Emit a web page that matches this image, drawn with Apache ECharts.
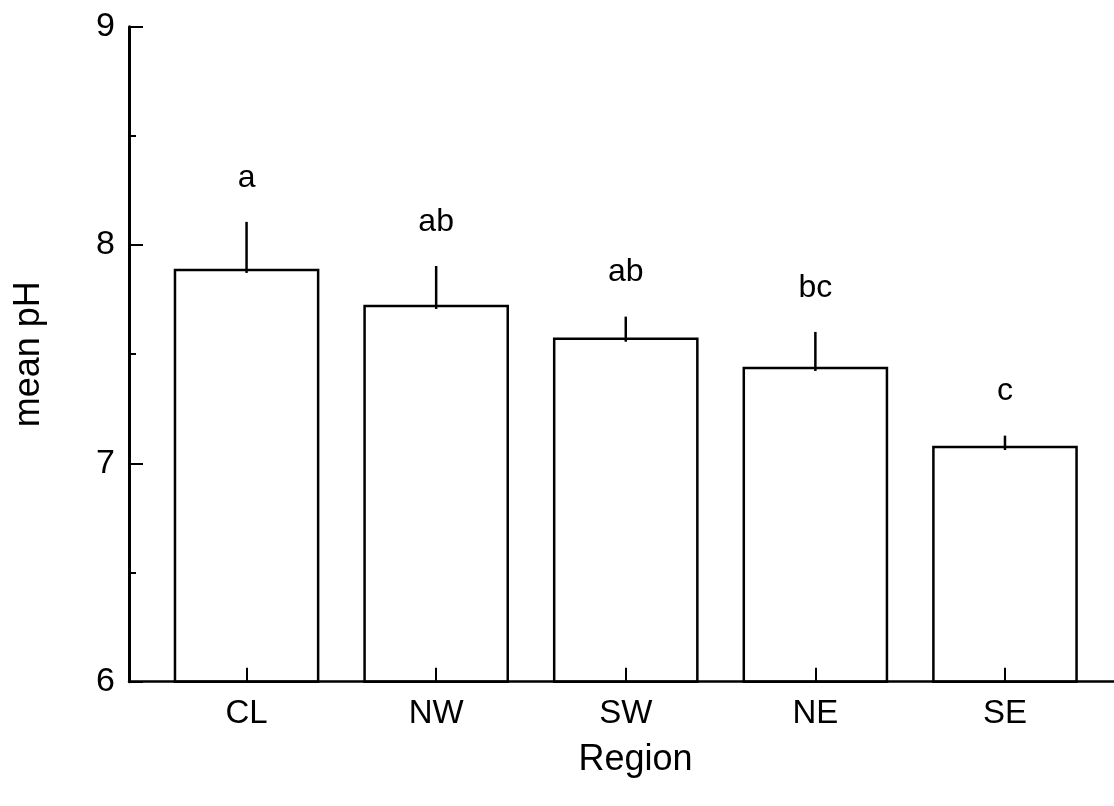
<!DOCTYPE html>
<html>
<head>
<meta charset="utf-8">
<script src="https://cdn.jsdelivr.net/npm/echarts@6/dist/echarts.min.js"></script>
<style>
html,body{margin:0;padding:0;background:#fff;}
#chart{width:1114px;height:806px;}
</style>
</head>
<body>
<div id="chart"></div>
<script>
// Data
const categories = ['CL', 'NW', 'SW', 'NE', 'SE'];
const meanPH = [7.886, 7.721, 7.571, 7.437, 7.075];
const errorUpper = [8.106, 7.904, 7.672, 7.602, 7.127];
const groupLetters = ['a', 'ab', 'ab', 'bc', 'c'];
const yMin = 6, yMax = 9, yInterval = 1;
const categoryIndex = [0, 1, 2, 3, 4];

const seriesData = categories.map((c, i) => [i, meanPH[i], errorUpper[i]]);

const FONT = 'Liberation Sans';

function renderItem(params, api) {
  const i = api.value(0);
  const m = api.value(1);
  const e = api.value(2);
  const base = api.coord([i, yMin]);
  const top = api.coord([i, m]);
  const et = api.coord([i, e]);
  const w = api.size([1, 0])[0] * 0.755;
  return {
    type: 'group',
    children: [
      {
        type: 'rect',
        shape: { x: top[0] - w / 2, y: top[1], width: w, height: base[1] - top[1] },
        style: { fill: 'rgba(255,255,255,0)', stroke: '#000000', lineWidth: 2.5 }
      },
      {
        type: 'line',
        shape: { x1: top[0], y1: top[1] + 3, x2: et[0], y2: et[1] },
        style: { stroke: '#000000', lineWidth: 2.5 }
      },
      {
        type: 'text',
        x: et[0],
        y: et[1] - 44,
        style: {
          text: groupLetters[i], fill: '#000000',
          fontSize: 32, fontFamily: FONT,
          align: 'center', verticalAlign: 'middle'
        }
      }
    ]
  };
}

const chart = echarts.init(document.getElementById('chart'), null, { renderer: 'canvas' });
chart.setOption({
  backgroundColor: '#ffffff',
  animation: false,
  grid: { left: 129, right: 0, top: 26.7, bottom: 124.3, containLabel: false },
  xAxis: {
    type: 'value',
    min: -0.62,
    max: 4.575,
    name: 'Region',
    nameLocation: 'middle',
    nameGap: 60,
    nameTextStyle: { fontSize: 36, color: '#000', fontFamily: FONT, padding: [0, 0, 0, 28] },
    axisLine: { show: true, onZero: false, lineStyle: { color: '#000', width: 2.5 } },
    axisTick: { show: true, inside: true, length: 14, customValues: categoryIndex, lineStyle: { color: '#000', width: 2 } },
    axisLabel: {
      show: true, customValues: categoryIndex, margin: 16,
      fontSize: 33, color: '#000', fontFamily: FONT,
      formatter: v => categories[Math.round(v)] || ''
    },
    splitLine: { show: false }
  },
  yAxis: {
    type: 'value',
    min: yMin,
    max: yMax,
    interval: yInterval,
    name: 'mean pH',
    nameLocation: 'middle',
    nameGap: 82,
    nameTextStyle: { fontSize: 36, color: '#000', fontFamily: FONT },
    axisLine: { show: true, onZero: false, lineStyle: { color: '#000', width: 3 } },
    axisTick: { show: true, inside: true, length: 14, lineStyle: { color: '#000', width: 2 } },
    minorTick: { show: true, splitNumber: 2, length: 7, lineStyle: { color: '#000', width: 2 } },
    axisLabel: { fontSize: 34, color: '#000', fontFamily: FONT, margin: 14 },
    splitLine: { show: false },
    minorSplitLine: { show: false }
  },
  series: [{
    type: 'custom',
    renderItem: renderItem,
    encode: { x: 0, y: [1, 2] },
    data: seriesData,
    clip: false,
    z: 1
  }]
});
</script>
</body>
</html>
